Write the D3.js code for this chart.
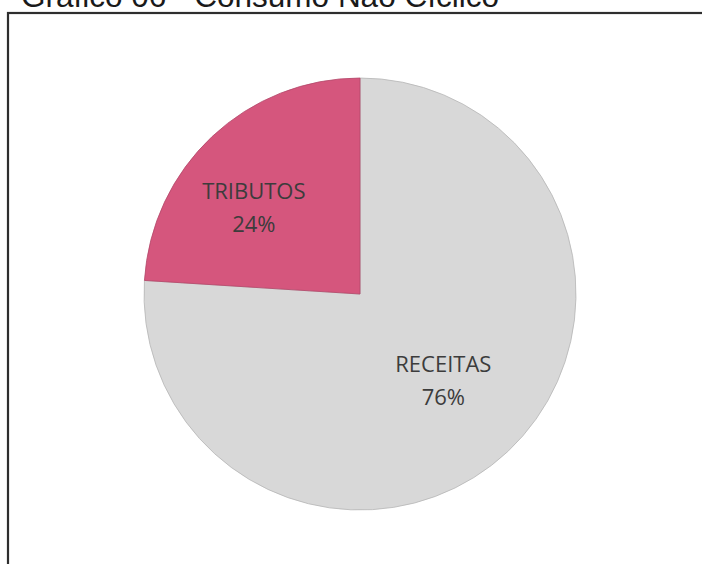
<!DOCTYPE html>
<html>
<head>
<meta charset="utf-8">
<script src="https://cdn.jsdelivr.net/npm/d3@7"></script>
<style>
  html, body { margin: 0; padding: 0; background: #fff; }
  svg { display: block; }
</style>
</head>
<body>
<svg id="chart" width="702" height="564"></svg>
<script>
// Consumo Não Cíclico: split between receitas and tributos
const categories = ["RECEITAS", "TRIBUTOS"];
const shares = [76, 24];
const percentLabels = ["76%", "24%"];
const sliceColors = ["#d8d8d8", "#d5567d"];

const svg = d3.select("#chart");
const W = 702, H = 564;

// title (partly above the page edge)
svg.append("text")
  .attr("x", 21)
  .attr("y", 7)
  .attr("font-family", "Liberation Sans, Arial, sans-serif")
  .attr("font-size", 31.5)
  .attr("fill", "#1a1a1a")
  .text("Gráfico 06 - Consumo Não Cíclico");

// chart frame
svg.append("rect")
  .attr("x", 8)
  .attr("y", 13)
  .attr("width", W + 20)
  .attr("height", H + 20)
  .attr("fill", "none")
  .attr("stroke", "#2e2e2e")
  .attr("stroke-width", 2.2);

const cx = 360, cy = 294, r = 216;
const g = svg.append("g").attr("transform", `translate(${cx},${cy})`);

const data = categories.map((c, i) => ({ name: c, value: shares[i], pct: percentLabels[i], color: sliceColors[i] }));

const pie = d3.pie().sort(null).value(d => d.value).startAngle(0).endAngle(2 * Math.PI);
const arcs = pie(data);
const arc = d3.arc().innerRadius(0).outerRadius(r);

g.selectAll("path.slice")
  .data(arcs)
  .join("path")
  .attr("class", "slice")
  .attr("d", arc)
  .attr("fill", d => d.data.color)
  .attr("stroke", d => d3.color(d.data.color).darker(0.5))
  .attr("stroke-width", 0.8);

// labels placed inside each slice
const labelRadius = { RECEITAS: 0.55, TRIBUTOS: 0.63 };
const labelShift = { RECEITAS: [2, 0], TRIBUTOS: [-13, 13] };
const labels = g.selectAll("g.label")
  .data(arcs)
  .join("g")
  .attr("class", "label")
  .attr("transform", d => {
    const lr = r * labelRadius[d.data.name];
    const [x, y] = d3.arc().innerRadius(lr).outerRadius(lr).centroid(d);
    const [sx, sy] = labelShift[d.data.name];
    return `translate(${x + sx},${y + sy})`;
  });

labels.append("text")
  .attr("text-anchor", "middle")
  .attr("y", -9)
  .attr("font-family", "Open Sans, sans-serif")
  .attr("font-size", 22)
  .attr("fill", "#3c3c3c")
  .text(d => d.data.name);

labels.append("text")
  .attr("text-anchor", "middle")
  .attr("y", 24)
  .attr("font-family", "Open Sans, sans-serif")
  .attr("font-size", 22)
  .attr("fill", "#3c3c3c")
  .text(d => d.data.pct);
</script>
</body>
</html>
